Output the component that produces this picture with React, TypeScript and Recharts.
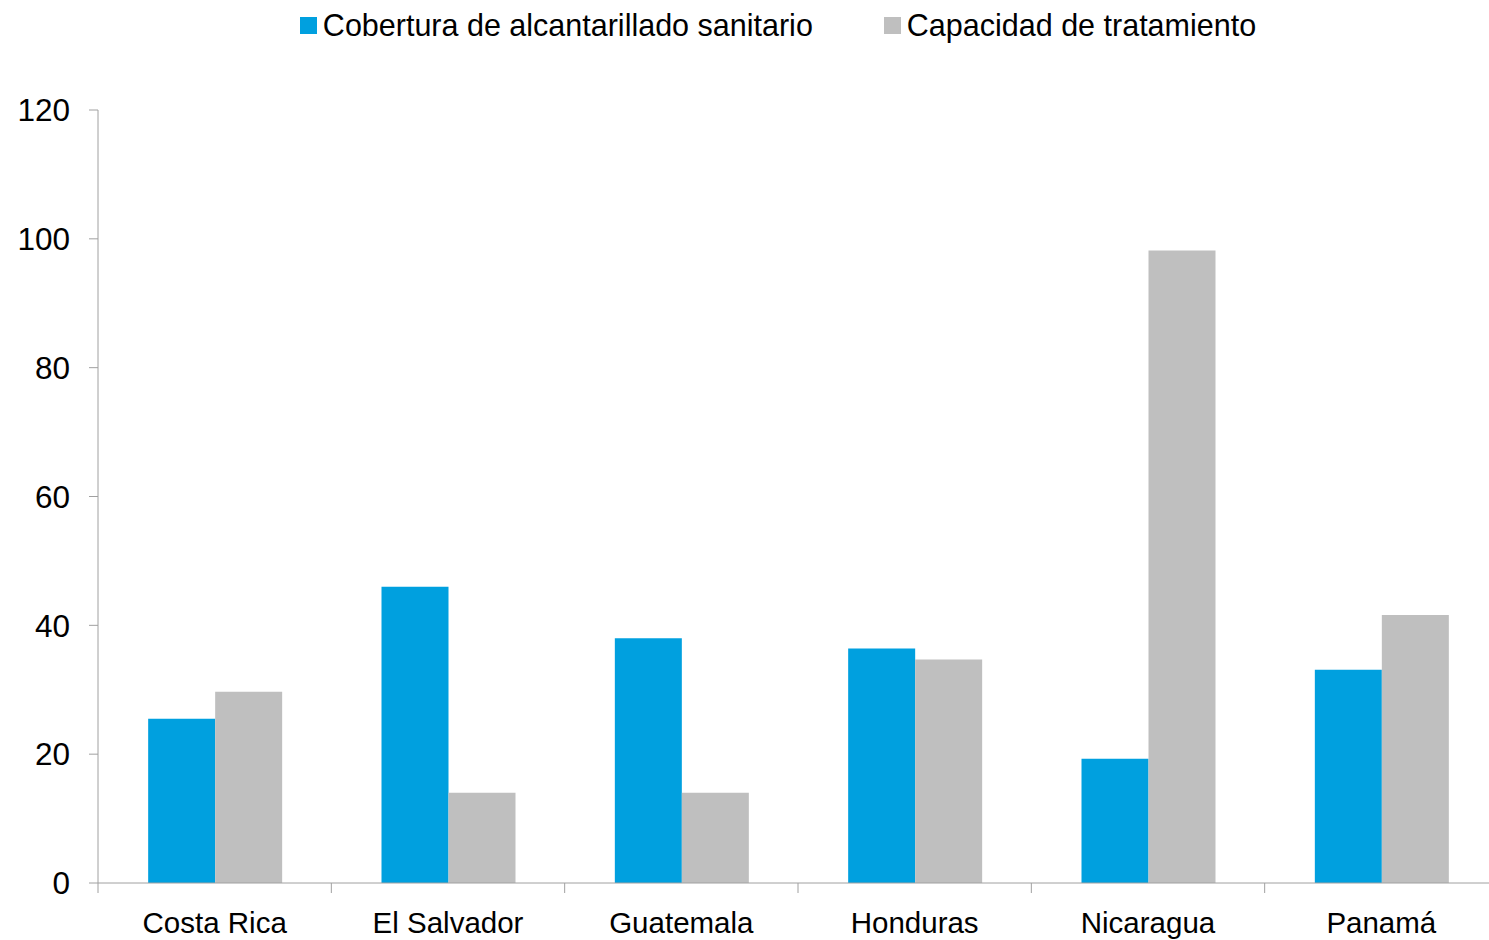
import React from 'react';
import { BarChart, Bar, XAxis, YAxis, Legend } from 'recharts';

const countries = ['Costa Rica', 'El Salvador', 'Guatemala', 'Honduras', 'Nicaragua', 'Panamá'];
const coberturaValues = [25.5, 46.0, 38.0, 36.4, 19.3, 33.1];
const capacidadValues = [29.7, 14.0, 14.0, 34.7, 98.2, 41.6];
const yTicks = [0, 20, 40, 60, 80, 100, 120];
const seriesKeys = ['cobertura', 'capacidad'];
const seriesNames = ['Cobertura de alcantarillado sanitario', 'Capacidad de tratamiento'];
const seriesColors = ['#00A0DF', '#BFBFBF'];

const data = countries.map((c, i) => ({
  country: c,
  cobertura: coberturaValues[i],
  capacidad: capacidadValues[i],
}));

const AXIS_COLOR = '#A0A0A0';
const X_TICK_SIZE = 10;
const X_TICK_MARGIN = 19;

const CategoryTick = (props: any) => {
  const { x, y, payload } = props;
  const half = payload && typeof payload.offset === 'number' ? payload.offset : 0;
  const lx = x - half;
  return (
    <g>
      <line
        x1={lx}
        x2={lx}
        y1={y - X_TICK_MARGIN - X_TICK_SIZE}
        y2={y - X_TICK_MARGIN}
        stroke={AXIS_COLOR}
        strokeWidth={1}
      />
      <text x={x} y={y} dy="0.71em" textAnchor="middle" fontSize={29.5} fill="#000">
        {payload.value}
      </text>
    </g>
  );
};

const renderLegend = () => (
  <div
    style={{
      display: 'flex',
      justifyContent: 'center',
      alignItems: 'center',
      height: 50,
      paddingLeft: 46,
      fontSize: 30.5,
      color: '#000',
    }}
  >
    {seriesNames.map((n, i) => (
      <div key={n} style={{ display: 'flex', alignItems: 'center', marginRight: i === 0 ? 71 : 0 }}>
        <span
          style={{
            width: 17,
            height: 17,
            background: seriesColors[i],
            marginRight: 6,
            display: 'inline-block',
          }}
        />
        <span>{n}</span>
      </div>
    ))}
  </div>
);

export default function App() {
  return (
    <div
      style={{
        position: 'fixed',
        left: 0,
        top: 0,
        width: 1489,
        height: 940,
        overflow: 'hidden',
        background: '#fff',
        fontFamily: '"Liberation Sans", Arial, sans-serif',
      }}
    >
      <BarChart
        width={1510}
        height={940}
        data={data}
        margin={{ top: 60, right: 12, bottom: 0, left: 0 }}
        barGap={0}
        barCategoryGap="21.5%"
      >
        <Legend
          verticalAlign="top"
          align="center"
          content={renderLegend}
          wrapperStyle={{ top: 0, left: 0, width: 1510 }}
        />
        <XAxis
          dataKey="country"
          height={57}
          interval={0}
          tickLine={false}
          axisLine={{ stroke: AXIS_COLOR }}
          tickSize={X_TICK_SIZE}
          tickMargin={X_TICK_MARGIN}
          tick={<CategoryTick />}
        />
        <YAxis
          width={98}
          domain={[0, 120]}
          ticks={yTicks}
          interval={0}
          axisLine={{ stroke: AXIS_COLOR }}
          tickLine={{ stroke: AXIS_COLOR }}
          tickSize={9}
          tickMargin={19}
          tick={{ fontSize: 31.5, fill: '#000' }}
        />
        {seriesKeys.map((k, i) => (
          <Bar key={k} dataKey={k} name={seriesNames[i]} fill={seriesColors[i]} isAnimationActive={false} />
        ))}
      </BarChart>
    </div>
  );
}
